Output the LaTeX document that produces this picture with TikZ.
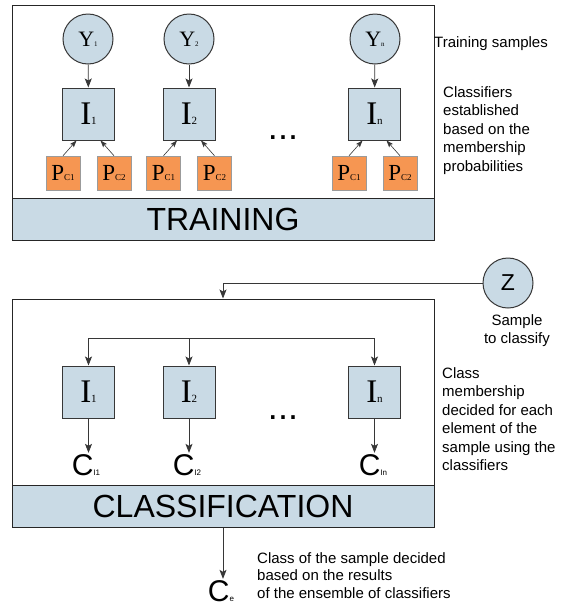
\documentclass[tikz,border=0pt]{standalone}
\usepackage{fontspec}
\setmainfont{Liberation Serif}
\setsansfont{Liberation Sans}
\usetikzlibrary{arrows.meta}

\definecolor{boxblue}{RGB}{201,218,229}
\definecolor{proborange}{RGB}{246,150,82}
\definecolor{edgegrey}{RGB}{55,55,55}

% big letter followed by a small index on the same baseline
\newcommand{\sublab}[4]{{\fontsize{#1}{#1}\selectfont #3}{\fontsize{#2}{#2}\selectfont #4}}

\begin{document}
\begin{tikzpicture}[x=1pt, y=-1pt,
    samp/.style={circle, draw=edgegrey, fill=boxblue, minimum size=50pt, inner sep=0pt, line width=1pt},
    clf/.style={draw=edgegrey, fill=boxblue, minimum width=52pt, minimum height=52pt, inner sep=0pt, line width=1pt},
    prob/.style={draw=edgegrey!50, fill=proborange, minimum size=34pt, inner sep=0pt, line width=0.5pt},
    frame/.style={draw=black!85, line width=1pt, minimum width=422pt, inner sep=0pt},
    band/.style={frame, fill=boxblue, minimum height=42pt, font=\sffamily\fontsize{32}{32}\selectfont},
    arr/.style={-{Stealth[length=9pt, width=7pt, inset=2pt]}, draw=edgegrey, line width=0.8pt},
    thinarr/.style={-{Stealth[length=7pt, width=5pt, inset=1.5pt]}, draw=edgegrey, line width=0.6pt},
    note/.style={font=\sffamily\fontsize{15}{18.5}\selectfont, align=left, inner sep=0pt},
    dotrow/.style={font=\sffamily\fontsize{36}{36}\selectfont, inner sep=0pt, anchor=base},
    outlab/.style={font=\sffamily, inner sep=1pt, anchor=base}]
  \useasboundingbox (0,0) rectangle (567,606);

  % training part
  \node[frame, minimum height=235pt] (trainbox) at (223,122.5) {};
  \node[band] (trainband) at (223,219) {TRAINING};

  \node[samp] (samp1) at (88,39) {\sublab{22}{7}{Y}{1}};
  \node[samp] (samp2) at (189,39) {\sublab{22}{7}{Y}{2}};
  \node[samp] (sampn) at (375,39) {\sublab{22}{7}{Y}{n}};

  \node[clf] (trn1) at (88.5,114) {\sublab{33}{11}{I}{1}};
  \node[clf] (trn2) at (189,114) {\sublab{33}{11}{I}{2}};
  \node[clf] (trnn) at (374.5,114) {\sublab{33}{11}{I}{n}};

  \foreach \k in {1,2,n} {
    \node[prob] (pa\k) at ([xshift=-25.5pt]trn\k.center |- 0,173) {\sublab{23}{9}{P}{C1}};
    \node[prob] (pb\k) at ([xshift=25.5pt]trn\k.center |- 0,173) {\sublab{23}{9}{P}{C2}};
    \draw[arr] (samp\k) -- (trn\k);
    \draw[thinarr] (pa\k.north) -- ([xshift=-12pt]trn\k.south);
    \draw[thinarr] (pb\k.north) -- ([xshift=12pt]trn\k.south);
  }
  \node[dotrow] (dotstrain) at (283,139) {...};

  \node[note, anchor=base west] (ntrain) at (434,47) {Training samples};
  \node[note, anchor=north west] (nclf) at (443,86) {Classifiers\\established\\based on the\\membership\\probabilities};

  % classification part
  \node[frame, minimum height=228pt] (clsbox) at (223,413) {};
  \node[band] (clsband) at (223,506) {CLASSIFICATION};

  \node[samp, font=\sffamily\fontsize{23}{23}\selectfont] (z) at (508,283) {Z};
  \node[note, align=center, anchor=north] (nz) at (517,314) {Sample\\to classify};
  \draw[arr] (z.west) -| (clsbox.north);

  \node[clf] (cls1) at (88.5,392) {\sublab{33}{11}{I}{1}};
  \node[clf] (cls2) at (189,392) {\sublab{33}{11}{I}{2}};
  \node[clf] (clsn) at (374.5,392) {\sublab{33}{11}{I}{n}};
  \node[dotrow] (dotscls) at (283,419) {...};

  \coordinate (fork) at (0,338);
  \draw[edgegrey, line width=0.8pt] (cls1.north |- fork) -- (clsn.north |- fork);

  \node[outlab] (out1) at (86,475) {\sublab{30}{8}{C}{I1}};
  \node[outlab] (out2) at (187,475) {\sublab{30}{8}{C}{I2}};
  \node[outlab] (outn) at (373,475) {\sublab{30}{8}{C}{In}};
  \foreach \k in {1,2,n} {
    \draw[arr] (cls\k.north |- fork) -- (cls\k.north);
    \draw[arr] (cls\k.south) -- (cls\k.south |- out\k.north);
  }

  \node[note, anchor=north west] (nout) at (442,367) {Class\\membership\\decided for each\\element of the\\sample using the\\classifiers};

  \node[outlab] (oute) at (221,601) {\sublab{30}{8}{C}{e}};
  \draw[arr] (clsband.south) -- (clsband.south |- oute.north);
  \node[note, anchor=north west, font=\sffamily\fontsize{15}{17.5}\selectfont] (nfinal) at (257,552) {Class of the sample decided\\based on the results\\of the ensemble of classifiers};
\end{tikzpicture}
\end{document}
